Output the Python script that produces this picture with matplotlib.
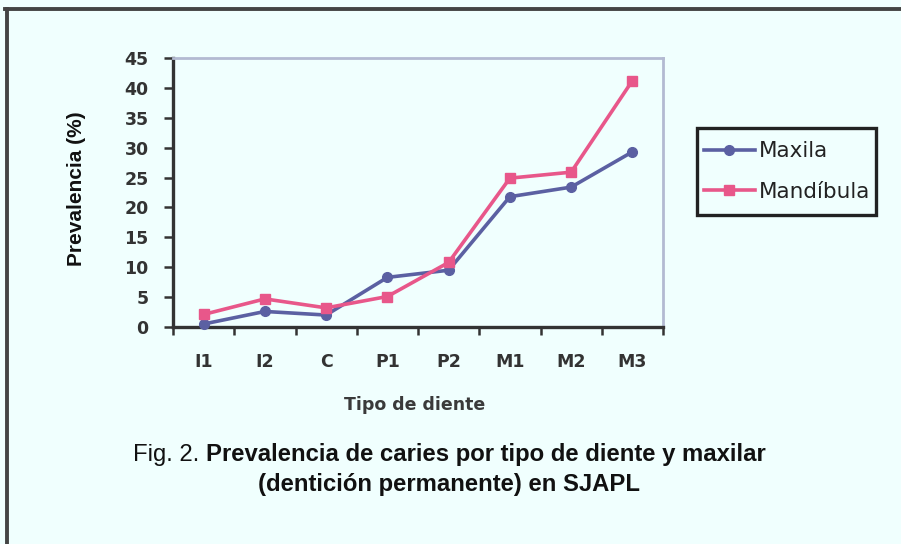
import matplotlib
matplotlib.use("Agg")
import matplotlib.pyplot as plt
from matplotlib.patches import Rectangle
from matplotlib.lines import Line2D

# ---- data ----
categories = ["I1", "I2", "C", "P1", "P2", "M1", "M2", "M3"]
maxila = [0.5, 2.6, 2.0, 8.3, 9.5, 21.8, 23.4, 29.3]
mandibula = [2.1, 4.7, 3.2, 5.1, 10.8, 24.9, 25.9, 41.2]
series_names = ["Maxila", "Mandíbula"]
y_ticks = [0, 5, 10, 15, 20, 25, 30, 35, 40, 45]
x_title = "Tipo de diente"
y_title = "Prevalencia (%)"
caption_prefix = "Fig. 2. "
caption_bold1 = "Prevalencia de caries por tipo de diente y maxilar"
caption_bold2 = "(dentición permanente) en SJAPL"

W, H = 901, 544
BG = "#F0FFFE"
C_MAX = "#5B60A2"
C_MAND = "#E8578A"
DARK = "#333333"

fig = plt.figure(figsize=(W / 100, H / 100), dpi=100, facecolor=BG)

def fx(px):
    return px / W

def fy(py):
    return 1 - py / H

# outer frame (left and top lines)
fig.add_artist(Line2D([fx(6.5), fx(6.5)], [fy(8.5), fy(H + 5)], color="#444444", lw=2.8))
fig.add_artist(Line2D([fx(4.5), fx(W + 5)], [fy(8.5), fy(8.5)], color="#444444", lw=2.8))

# axes
L, R, T, B = 173, 663, 58, 327
ax = fig.add_axes([fx(L), fy(B), fx(R) - fx(L), fy(T) - fy(B)])
ax.set_facecolor(BG)

x = list(range(len(categories)))
ax.plot(x, maxila, color=C_MAX, lw=2.6, marker="o", ms=7, label=series_names[0], zorder=3, clip_on=False)
ax.plot(x, mandibula, color=C_MAND, lw=2.6, marker="s", ms=6.5, label=series_names[1], zorder=4, clip_on=False)

ax.set_xlim(-0.5, len(categories) - 0.5)
ax.set_ylim(0, 45)

# spines
for s in ["top", "right"]:
    ax.spines[s].set_color("#B3BAD2")
    ax.spines[s].set_linewidth(2.0)
for s in ["left", "bottom"]:
    ax.spines[s].set_color(DARK)
    ax.spines[s].set_linewidth(2.4)

ax.set_yticks(y_ticks)
ax.set_yticklabels([str(v) for v in y_ticks])
ax.tick_params(axis="y", direction="out", length=6.5, width=1.8, color=DARK, pad=11,
               labelsize=12.5, labelcolor=DARK)
for lab in ax.get_yticklabels():
    lab.set_fontweight("bold")
    lab.set_family("DejaVu Sans")

# x ticks: major at boundaries (marks only), minor at centers (labels only)
ax.set_xticks([i - 0.5 for i in range(len(categories) + 1)])
ax.set_xticklabels([])
ax.set_xticks(x, minor=True)
ax.set_xticklabels(categories, minor=True)
ax.tick_params(axis="x", which="major", direction="out", length=6, width=1.8, color=DARK)
ax.tick_params(axis="x", which="minor", length=0, pad=19, labelsize=12.5, labelcolor=DARK)
for lab in ax.get_xticklabels(minor=True):
    lab.set_fontweight("bold")
    lab.set_family("DejaVu Sans")

# axis titles
fig.text(fx(415), fy(405), x_title, ha="center", va="center", fontsize=12.5,
         fontweight="bold", color="#3a3a3a", family="DejaVu Sans")
fig.text(fx(77), fy(189), y_title, ha="center", va="center", rotation=90, fontsize=15,
         fontweight="bold", color="#111111", family="Liberation Sans")

# legend
leg = ax.legend(loc="center left", bbox_to_anchor=(fx(704), fy(171.5)),
                bbox_transform=fig.transFigure, frameon=False, borderpad=0,
                borderaxespad=0, handlelength=2.35, handletextpad=0.2,
                labelspacing=0.95, prop={"family": "DejaVu Sans", "size": 15.5})
for t in leg.get_texts():
    t.set_color("#222222")
fig.add_artist(Rectangle((fx(697), fy(215)), fx(876) - fx(697), fy(128) - fy(215),
                         transform=fig.transFigure, fill=False, edgecolor="#222222", lw=2.4))

# caption
cap_kw = dict(fontsize=17.2, color="#111111", family="Liberation Sans", va="baseline")
t1 = fig.text(0, fy(461.5), caption_prefix, ha="left", **cap_kw)
t2 = fig.text(0, fy(461.5), caption_bold1, ha="left", fontweight="bold", **cap_kw)
fig.text(fx(449), fy(490.5), caption_bold2, ha="center", fontweight="bold", **cap_kw)
fig.canvas.draw()
r = fig.canvas.get_renderer()
w1 = t1.get_window_extent(r).width
w2 = t2.get_window_extent(r).width
start = 449 - (w1 + w2) / 2
t1.set_x(fx(start))
t2.set_x(fx(start + w1))

fig.savefig("out.png", dpi=100, facecolor=BG)
